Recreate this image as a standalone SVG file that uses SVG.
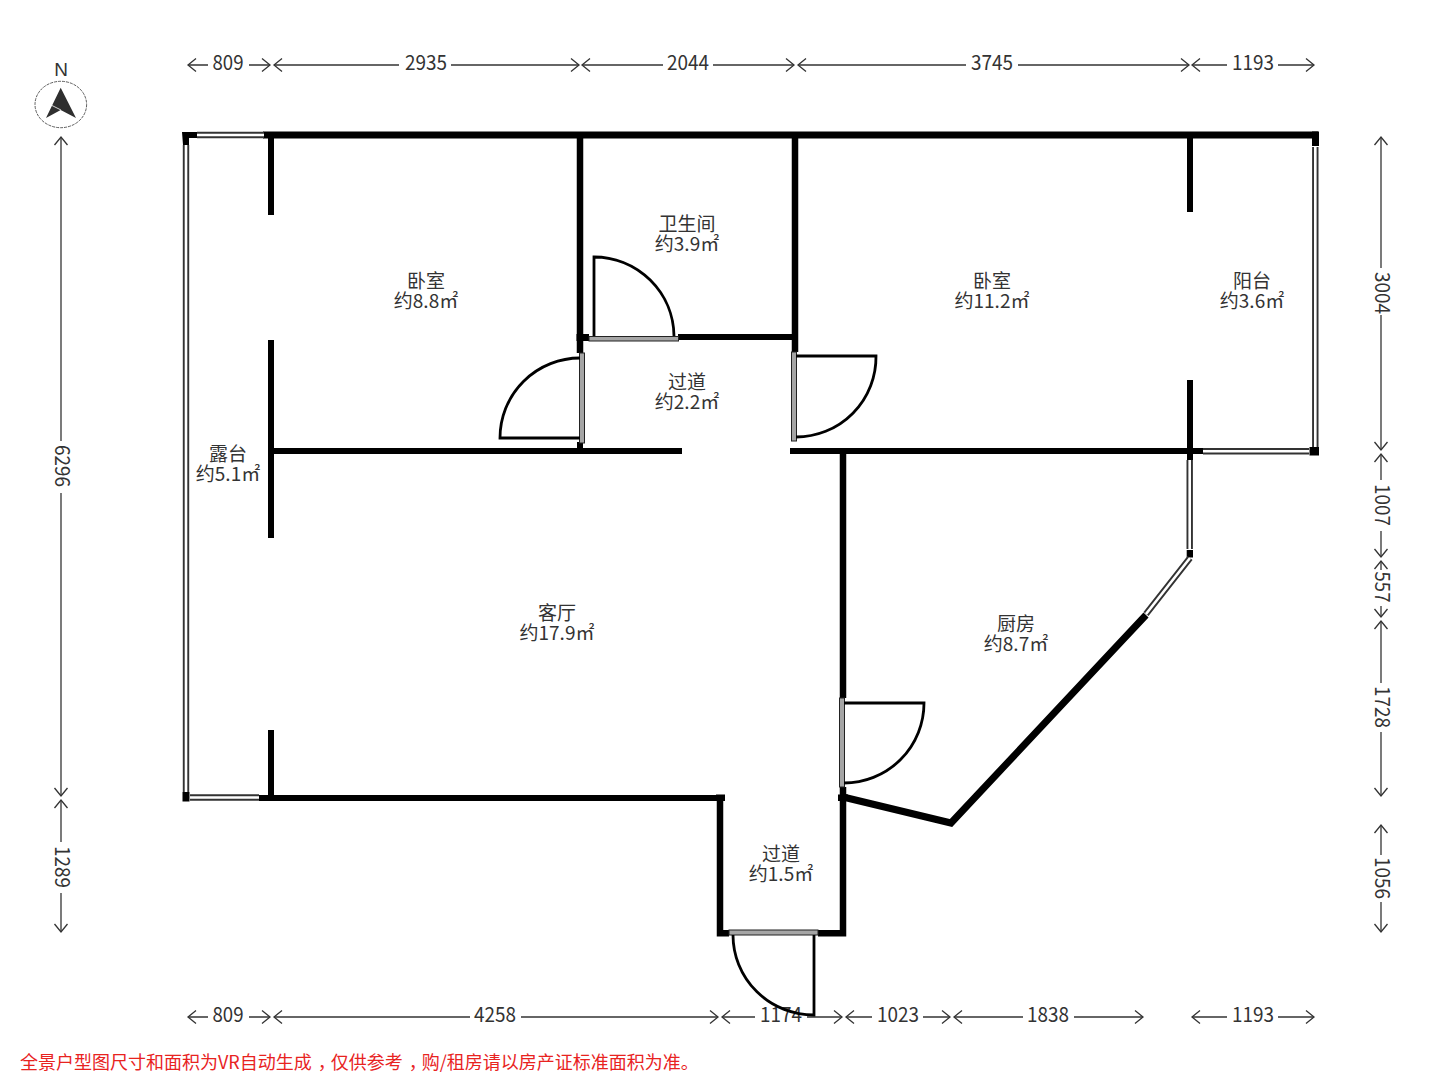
<svg xmlns="http://www.w3.org/2000/svg" width="1440" height="1080" viewBox="0 0 1440 1080">
<style>
text{font-family:"Noto Sans CJK SC","Noto Sans",sans-serif;fill:#333;font-size:19px;text-anchor:middle}
.num{font-size:20.5px}
.wall{fill:none;stroke:#000;stroke-linecap:butt;stroke-linejoin:miter}
.w6{stroke-width:6}.w65{stroke-width:6.5}.w7{stroke-width:7}
.winO{fill:none;stroke:#333;stroke-width:6.4}
.winI{fill:none;stroke:#fff;stroke-width:2.6}
.door{fill:#a5a5a5;stroke:#222;stroke-width:1}
.leaf{fill:none;stroke:#000;stroke-width:2.8}
.dim{fill:none;stroke:#333;stroke-width:1.3;marker-start:url(#ah);marker-end:url(#ah)}
.cap{fill:#000}
.cm{font-feature-settings:"halt"}
</style>
<defs>
<marker id="ah" markerUnits="userSpaceOnUse" markerWidth="14" markerHeight="16" refX="10" refY="8" orient="auto-start-reverse">
<path d="M2 1.500L10 8L2 14.500" fill="none" stroke="#333" stroke-width="1.3"/>
</marker>
</defs>
<rect width="1440" height="1080" fill="#fff"/>
<g id="connectors">
<path class="dim" d="M188 65H270"/><path class="dim" d="M274 65H579"/><path class="dim" d="M582 65H794"/><path class="dim" d="M798 65H1189"/><path class="dim" d="M1192 65H1314"/>
<path class="dim" d="M188 1017H270"/><path class="dim" d="M274 1017H718"/><path class="dim" d="M722 1017H842"/><path class="dim" d="M846 1017H950"/><path class="dim" d="M954 1017H1143"/><path class="dim" d="M1192 1017H1314"/>
<path class="dim" d="M61 137V796"/><path class="dim" d="M61 800V932"/>
<path class="dim" d="M1381 137V450"/><path class="dim" d="M1381 454V557"/><path class="dim" d="M1381 561V617"/><path class="dim" d="M1381 621V796"/><path class="dim" d="M1381 825V932"/>
<g fill="#fff" stroke="none">
<rect x="208" y="58" width="41" height="14"/><rect x="399" y="58" width="52" height="14"/><rect x="663" y="58" width="50" height="14"/><rect x="966" y="58" width="52" height="14"/><rect x="1227" y="58" width="51" height="14"/>
<rect x="208" y="1010" width="41" height="14"/><rect x="470" y="1010" width="51" height="14"/><rect x="755" y="1010" width="52" height="14"/><rect x="872" y="1010" width="51" height="14"/><rect x="1023" y="1010" width="51" height="14"/><rect x="1227" y="1010" width="51" height="14"/>
<rect x="54" y="441" width="14" height="52"/><rect x="54" y="842" width="14" height="51"/>
<rect x="1374" y="268" width="14" height="47"/><rect x="1374" y="480" width="14" height="51"/><rect x="1374" y="570" width="14" height="36"/><rect x="1374" y="683" width="14" height="49"/><rect x="1374" y="855" width="14" height="47"/>
</g>
<g class="nums">
<text class="num" textLength="31" lengthAdjust="spacingAndGlyphs" x="228" y="70">809</text><text class="num" textLength="42" lengthAdjust="spacingAndGlyphs" x="426" y="70">2935</text><text class="num" textLength="42" lengthAdjust="spacingAndGlyphs" x="688" y="70">2044</text><text class="num" textLength="42" lengthAdjust="spacingAndGlyphs" x="992" y="70">3745</text><text class="num" textLength="42" lengthAdjust="spacingAndGlyphs" x="1253" y="70">1193</text>
<text class="num" textLength="31" lengthAdjust="spacingAndGlyphs" x="228" y="1022">809</text><text class="num" textLength="42" lengthAdjust="spacingAndGlyphs" x="495" y="1022">4258</text><text class="num" textLength="42" lengthAdjust="spacingAndGlyphs" x="781" y="1022">1174</text><text class="num" textLength="42" lengthAdjust="spacingAndGlyphs" x="898" y="1022">1023</text><text class="num" textLength="42" lengthAdjust="spacingAndGlyphs" x="1048" y="1022">1838</text><text class="num" textLength="42" lengthAdjust="spacingAndGlyphs" x="1253" y="1022">1193</text>
<text class="num" textLength="42" lengthAdjust="spacingAndGlyphs" transform="translate(55 466) rotate(90)">6296</text><text class="num" textLength="42" lengthAdjust="spacingAndGlyphs" transform="translate(55 867) rotate(90)">1289</text>
<text class="num" textLength="42" lengthAdjust="spacingAndGlyphs" transform="translate(1375 293) rotate(90)">3004</text><text class="num" textLength="42" lengthAdjust="spacingAndGlyphs" transform="translate(1375 505) rotate(90)">1007</text><text class="num" textLength="31" lengthAdjust="spacingAndGlyphs" transform="translate(1375 587) rotate(90)">557</text><text class="num" textLength="42" lengthAdjust="spacingAndGlyphs" transform="translate(1375 707) rotate(90)">1728</text><text class="num" textLength="42" lengthAdjust="spacingAndGlyphs" transform="translate(1375 878) rotate(90)">1056</text>
</g>
</g>
<g id="walls">
<path class="wall w7" d="M263 135H1318M843 797L951 823L1146 615"/>
<path class="wall w65" d="M580 135V353M795 135V352M843 451V698M843 787V936.500M720 796V936.500M717 933.300H729M818 933.300H846"/>
<path class="wall w6" d="M271 135V215M271 340V538M271 730V801M259 798H725M580 442V454M271 451H682M790 451H1203M678 337H798M1190 132V212M1190 380V460"/>
<path class="cap" d="M182 132H197V138H189V145H183ZM182.500 792H189.500V801.500H182.500ZM1309.500 447H1319V455.500H1309.500ZM1186.700 550H1193V557.500H1186.700ZM1312 131.500H1319V146H1312ZM576.500 334H589V341H576.500ZM716 794.500H725V801H716ZM838 794.500H848V801H838Z"/>
</g>
<g id="windows">
<path class="winO" d="M197 135H264M186 145V792M190 797.500H259M1315.300 147V447M1203 451.300H1309M1189.700 460V549M1190 558L1146 614"/>
<path class="winI" d="M197 135H264M186 145V792M190 797.500H259M1315.300 147V447M1203 451.300H1309M1189.700 460V549M1190 558L1146 614"/>
</g>
<g id="door-bath">
<rect class="door" x="589" y="336.500" width="89.500" height="4.500"/>
<path class="leaf" d="M594 336V257A80 80 0 0 1 674 336"/>
</g>
<g id="door-bed1">
<rect class="door" x="579.500" y="353" width="5" height="90"/>
<path class="leaf" d="M580 358A80 80 0 0 0 500 438H580"/>
</g>
<g id="door-bed2">
<rect class="door" x="791.500" y="352" width="5" height="89"/>
<path class="leaf" d="M796 356H876A80 80 0 0 1 796 437"/>
</g>
<g id="door-kitchen">
<rect class="door" x="839.500" y="698" width="5" height="89"/>
<path class="leaf" d="M844 703H924A80 80 0 0 1 844 783"/>
</g>
<g id="door-entry">
<rect class="door" x="729" y="930" width="89" height="5"/>
<path class="leaf" d="M814 935V1015A81 80 0 0 1 733 935"/>
</g>
<g id="compass">
<text x="61" y="76" style="font-size:19px;font-family:'Liberation Sans',sans-serif">N</text>
<ellipse cx="60.800" cy="104.500" rx="25.800" ry="23.200" fill="none" stroke="#333" stroke-width="0.8" stroke-dasharray="3 1"/>
<path fill="#2f2f2f" d="M60.700 87.700L76 118L60.700 110L46 118Z"/>
<path stroke="#fff" stroke-width="0.8" d="M52 105.500L61 110"/>
</g>
<g id="room-bed1"><text x="426" y="288">卧室<tspan x="426" dy="20">约8.8㎡</tspan></text></g>
<g id="room-bath"><text x="687" y="231">卫生间<tspan x="687" dy="20">约3.9㎡</tspan></text></g>
<g id="room-bed2"><text x="992" y="288">卧室<tspan x="992" dy="20">约11.2㎡</tspan></text></g>
<g id="room-balcony"><text x="1252" y="288">阳台<tspan x="1252" dy="20">约3.6㎡</tspan></text></g>
<g id="room-hall1"><text x="687" y="389">过道<tspan x="687" dy="20">约2.2㎡</tspan></text></g>
<g id="room-terrace"><text x="228" y="461">露台<tspan x="228" dy="20">约5.1㎡</tspan></text></g>
<g id="room-living"><text x="557" y="620">客厅<tspan x="557" dy="20">约17.9㎡</tspan></text></g>
<g id="room-kitchen"><text x="1016" y="631">厨房<tspan x="1016" dy="20">约8.7㎡</tspan></text></g>
<g id="room-hall2"><text x="781" y="861">过道<tspan x="781" dy="20">约1.5㎡</tspan></text></g>
<g id="footer"><text x="20" y="1069" style="text-anchor:start;fill:#e8231f;font-size:18px">全景户型图尺寸和面积为VR自动生成<tspan class="cm" dx="6">，</tspan><tspan dx="4">仅供参考</tspan><tspan class="cm" dx="6">，</tspan><tspan dx="4">购/租房请以房产证标准面积为准。</tspan></text></g>
</svg>
